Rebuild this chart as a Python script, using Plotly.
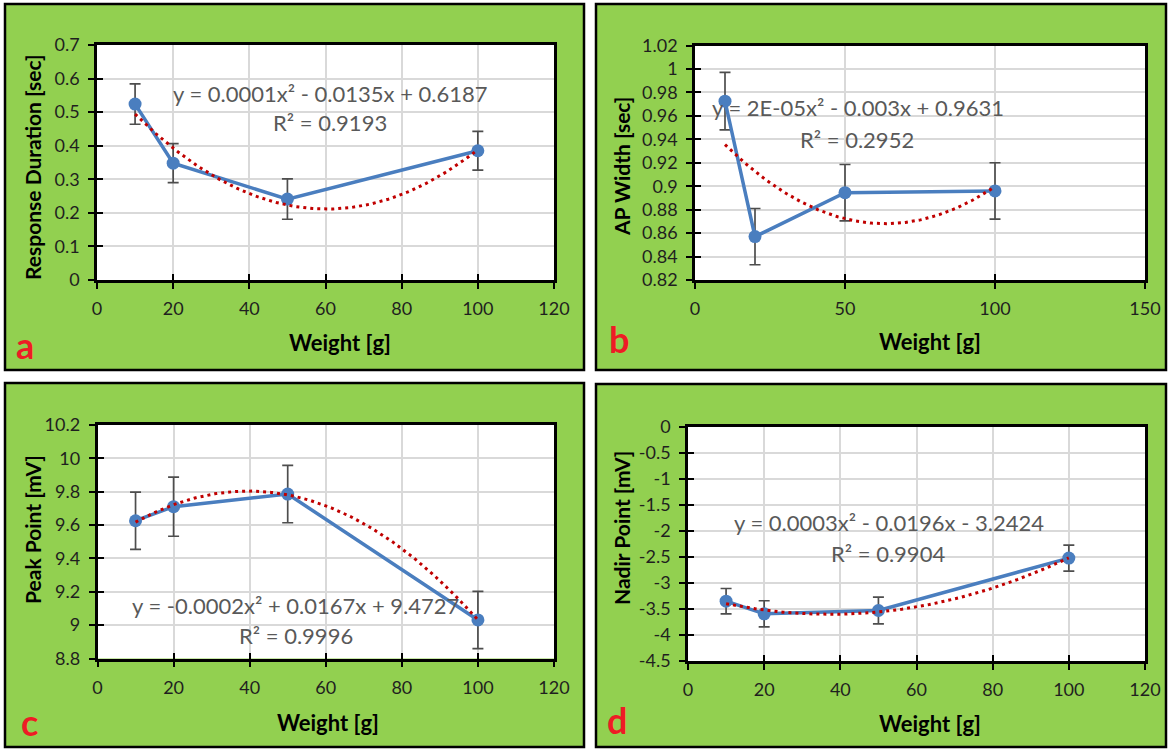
import numpy as np
import plotly.graph_objects as go

# ---------------- data ----------------
weights = [10, 20, 50, 100]

resp_duration = [0.524, 0.348, 0.241, 0.385]
resp_duration_err = [0.060, 0.058, 0.060, 0.058]

ap_width = [0.9725, 0.857, 0.8945, 0.896]
ap_width_err = [0.0245, 0.024, 0.024, 0.024]

peak_point = [9.626, 9.710, 9.786, 9.031]
peak_point_err = [0.172, 0.177, 0.172, 0.172]

nadir_point = [-3.352, -3.594, -3.531, -2.525]
nadir_point_err = [0.243, 0.250, 0.255, 0.250]

eq_a = ["y = 0.0001x² - 0.0135x + 0.6187", "R² = 0.9193"]
eq_b = ["y = 2E-05x² - 0.003x + 0.9631", "R² = 0.2952"]
eq_c = ["y = -0.0002x² + 0.0167x + 9.4727", "R² = 0.9996"]
eq_d = ["y = 0.0003x² - 0.0196x - 3.2424", "R² = 0.9904"]

x_ticks_120 = [0, 20, 40, 60, 80, 100, 120]
x_ticks_150 = [0, 50, 100, 150]

y_ticks_a = [0, 0.1, 0.2, 0.3, 0.4, 0.5, 0.6, 0.7]
y_labels_a = ["0", "0.1", "0.2", "0.3", "0.4", "0.5", "0.6", "0.7"]
y_ticks_b = [0.82, 0.84, 0.86, 0.88, 0.90, 0.92, 0.94, 0.96, 0.98, 1.00, 1.02]
y_labels_b = ["0.82", "0.84", "0.86", "0.88", "0.9", "0.92", "0.94", "0.96", "0.98", "1", "1.02"]
y_ticks_c = [8.8, 9.0, 9.2, 9.4, 9.6, 9.8, 10.0, 10.2]
y_labels_c = ["8.8", "9", "9.2", "9.4", "9.6", "9.8", "10", "10.2"]
y_ticks_d = [-4.5, -4, -3.5, -3, -2.5, -2, -1.5, -1, -0.5, 0]
y_labels_d = ["-4.5", "-4", "-3.5", "-3", "-2.5", "-2", "-1.5", "-1", "-0.5", "0"]

y_titles = ["Response Duration [sec]", "AP Width [sec]", "Peak Point [mV]", "Nadir Point [mV]"]
x_title = "Weight [g]"
letters = ["a", "b", "c", "d"]

# ---------------- style / layout config ----------------
W, H = 1170, 749
FONT = "Lato, 'Open Sans', sans-serif"
GREEN = "#92D050"
BLUE = "#4A7EBF"
RED = "#C00000"
GRID = "#D9D9D9"
EQ_GRAY = "#595959"
TICK_COL = "#1f1f1f"

def px(x):
    return x / W

def py(y):
    return 1 - y / H

panels = [
    dict(y=resp_duration, err=resp_duration_err, eq=eq_a,
         xt=x_ticks_120, xr=[0, 120], yt=y_ticks_a, yl=y_labels_a, yr=[0, 0.7],
         box=(97, 45, 554, 280), frame=(5, 4, 584, 370),
         eqpos=[(330, 93), (330, 123)], xtpos=(340, 343), ytpos=(32, 167), letpos=(25, 345)),
    dict(y=ap_width, err=ap_width_err, eq=eq_b,
         xt=x_ticks_150, xr=[0, 150], yt=y_ticks_b, yl=y_labels_b, yr=[0.82, 1.02],
         box=(695, 45.5, 1145, 280), frame=(596, 4, 1166, 370),
         eqpos=[(858, 108), (857, 139)], xtpos=(930, 342), ytpos=(621, 167), letpos=(619, 339)),
    dict(y=peak_point, err=peak_point_err, eq=eq_c,
         xt=x_ticks_120, xr=[0, 120], yt=y_ticks_c, yl=y_labels_c, yr=[8.8, 10.2],
         box=(97.5, 425, 554, 658.5), frame=(5, 383, 584, 747),
         eqpos=[(295, 605), (296, 635)], xtpos=(328, 722), ytpos=(32, 530), letpos=(29, 722)),
    dict(y=nadir_point, err=nadir_point_err, eq=eq_d,
         xt=x_ticks_120, xr=[0, 120], yt=y_ticks_d, yl=y_labels_d, yr=[-4.5, 0],
         box=(688, 426.5, 1145, 661), frame=(596, 384, 1166, 747),
         eqpos=[(889, 522), (888, 553)], xtpos=(930, 723), ytpos=(621, 528), letpos=(617, 720)),
]

fig = go.Figure()
shapes = []
annotations = []
layout_axes = {}

for i, p in enumerate(panels):
    n = i + 1
    xs = "" if n == 1 else str(n)
    xref, yref = "x" + xs, "y" + xs
    ov = str(n + 4)

    # green panel background with black border
    fx0, fy0, fx1, fy1 = p["frame"]
    shapes.append(dict(type="rect", xref="paper", yref="paper",
                       x0=px(fx0), x1=px(fx1), y0=py(fy1), y1=py(fy0),
                       fillcolor=GREEN, line=dict(color="#000000", width=2.5), layer="below"))
    # white plot area
    shapes.append(dict(type="rect", xref=xref + " domain", yref=yref + " domain",
                       x0=0, x1=1, y0=0, y1=1, fillcolor="white",
                       line=dict(width=0), layer="below"))

    # trendline: least-squares quadratic fit of the data (as Excel does)
    coef = np.polyfit(weights, p["y"], 2)
    xf = np.linspace(min(weights), max(weights), 200)
    yf = np.polyval(coef, xf)

    fig.add_trace(go.Scatter(
        x=weights, y=p["y"], mode="lines+markers", xaxis=xref, yaxis=yref,
        line=dict(color=BLUE, width=3.5),
        marker=dict(color=BLUE, size=13),
        error_y=dict(type="data", array=p["err"], visible=True,
                     color="#4d4d4d", thickness=1.7, width=5.5),
        showlegend=False, hoverinfo="x+y"))
    fig.add_trace(go.Scatter(
        x=xf, y=yf, mode="lines", xaxis=xref, yaxis=yref,
        line=dict(color=RED, width=3, dash="3px,4px"),
        showlegend=False, hoverinfo="skip"))
    # dummy trace for overlay axes (inside half of crossing ticks)
    fig.add_trace(go.Scatter(x=[None], y=[None], xaxis="x" + ov, yaxis="y" + ov,
                             showlegend=False, hoverinfo="skip"))

    bx0, by0, bx1, by1 = p["box"]
    common = dict(showline=True, linecolor="#000000", linewidth=2.5, mirror=True,
                  showgrid=True, gridcolor=GRID, gridwidth=2, zeroline=False,
                  ticks="outside", ticklen=6, tickwidth=2, tickcolor="#000000",
                  tickfont=dict(family=FONT, size=18, color=TICK_COL),
                  ticklabelstandoff=5, automargin=False)
    layout_axes["xaxis" + xs] = dict(
        domain=[px(bx0), px(bx1)], anchor=yref, range=p["xr"],
        tickmode="array", tickvals=p["xt"], ticktext=[str(v) for v in p["xt"]], **common)
    layout_axes["yaxis" + xs] = dict(
        domain=[py(by1), py(by0)], anchor=xref, range=p["yr"],
        tickmode="array", tickvals=p["yt"], ticktext=p["yl"], **common)
    ov_common = dict(showline=False, showgrid=False, zeroline=False, showticklabels=False,
                     ticks="inside", ticklen=6, tickwidth=2, tickcolor="#000000",
                     automargin=False)
    layout_axes["xaxis" + ov] = dict(overlaying=xref, anchor="y" + ov, range=p["xr"],
                                     tickmode="array", tickvals=p["xt"], **ov_common)
    layout_axes["yaxis" + ov] = dict(overlaying=yref, anchor="x" + ov, range=p["yr"],
                                     tickmode="array", tickvals=p["yt"], **ov_common)

    # equation text
    for (ex, ey), txt in zip(p["eqpos"], p["eq"]):
        annotations.append(dict(x=px(ex), y=py(ey), xref="paper", yref="paper",
                                text=txt, showarrow=False, xanchor="center", yanchor="middle",
                                font=dict(family=FONT, size=22, color=EQ_GRAY)))
    # axis titles
    annotations.append(dict(x=px(p["xtpos"][0]), y=py(p["xtpos"][1]), xref="paper", yref="paper",
                            text="<b>" + x_title + "</b>", showarrow=False,
                            xanchor="center", yanchor="middle",
                            font=dict(family=FONT, size=22, color="#000000")))
    annotations.append(dict(x=px(p["ytpos"][0]), y=py(p["ytpos"][1]), xref="paper", yref="paper",
                            text="<b>" + y_titles[i] + "</b>", showarrow=False, textangle=-90,
                            xanchor="center", yanchor="middle",
                            font=dict(family=FONT, size=21, color="#000000")))
    # panel letter
    annotations.append(dict(x=px(p["letpos"][0]), y=py(p["letpos"][1]), xref="paper", yref="paper",
                            text="<b>" + letters[i] + "</b>", showarrow=False,
                            xanchor="center", yanchor="middle",
                            font=dict(family=FONT, size=36, color="#EE1C25")))

fig.update_layout(
    width=W, height=H, margin=dict(l=0, r=0, t=0, b=0, autoexpand=False),
    paper_bgcolor="white", plot_bgcolor="white",
    shapes=shapes, annotations=annotations, showlegend=False,
    **layout_axes)

fig.write_html(
    "out.html",
    config={"displayModeBar": False},
    post_script="document.body.style.margin='0';document.body.style.overflow='hidden';",
)
